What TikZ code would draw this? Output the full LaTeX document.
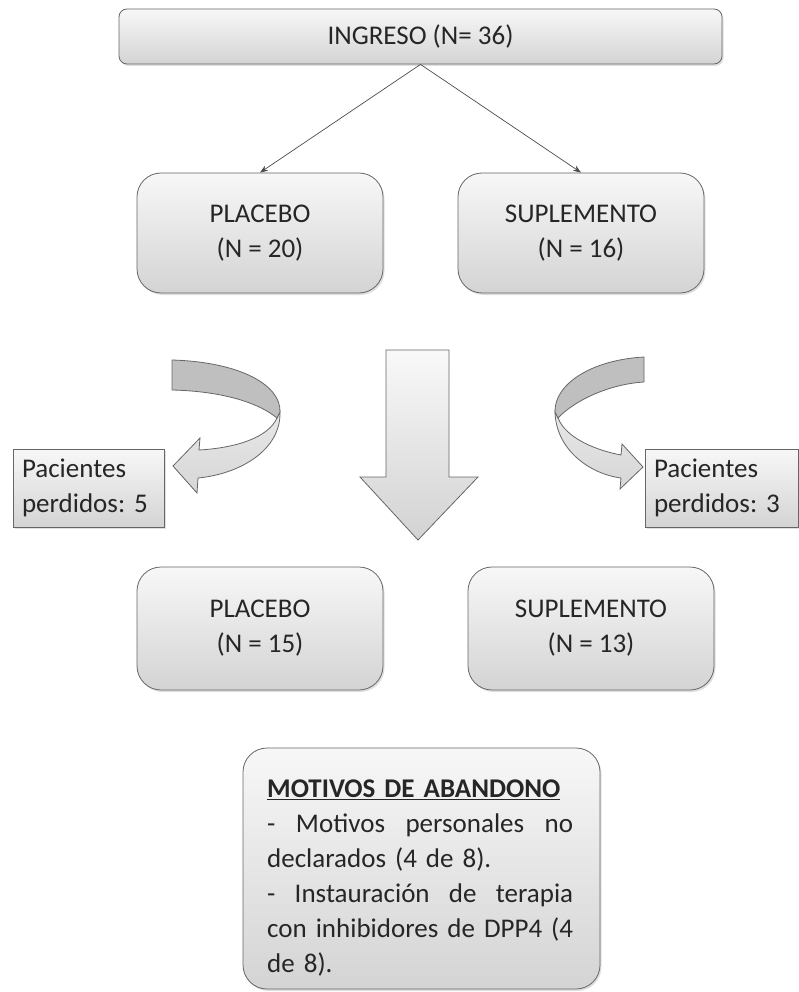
\documentclass[tikz,border=0pt]{standalone}
\usepackage{fontspec}
\setmainfont{Carlito}
\usetikzlibrary{arrows.meta,shadows,positioning}
\frenchspacing

\begin{document}
\begin{tikzpicture}[x=1pt, y=-1pt,
    font=\fontsize{27}{35}\selectfont,
    grupo/.style={draw=black!60, line width=0.8pt, rounded corners=24pt,
        top color=gray!6, bottom color=gray!34, text=black!85,
        align=center, inner sep=0pt,
        drop shadow={shadow xshift=1.5pt, shadow yshift=-2pt, opacity=0.25}},
    perdidos/.style={draw=black!60, line width=0.8pt,
        top color=gray!6, bottom color=gray!34, text=black!85,
        align=left, inner xsep=9pt, inner ysep=0pt,
        drop shadow={shadow xshift=1.5pt, shadow yshift=-2pt, opacity=0.25}},
    conn/.style={draw=black!70, line width=0.7pt, -{Stealth[length=8pt, width=6pt]}},
    bloque/.style={draw=black!60, line width=0.8pt, top color=gray!5, bottom color=gray!35},
    cinta/.style={draw=black!60, line width=0.8pt, fill=gray!50},
    cintabaja/.style={draw=black!60, line width=0.8pt, top color=gray!18, bottom color=gray!32}
]
\useasboundingbox (0,0) rectangle (799,992);

\node[grupo, rounded corners=8pt, minimum width=603pt, minimum height=55pt] (ingreso) at (420.5,36.5) {INGRESO (N= 36)};

\node[grupo, minimum width=246pt, minimum height=120pt] (placeboA) at (260,233) {PLACEBO\\(N = 20)};
\node[grupo, minimum width=246pt, minimum height=120pt] (suplementoA) at (581,233) {SUPLEMENTO\\(N = 16)};

\draw[conn] (ingreso.south) -- (placeboA.north);
\draw[conn] (ingreso.south) -- (suplementoA.north);

\path[bloque] (386,350) -- (449,350) -- (449,477) -- (478,477) -- (418,540) -- (360,477) -- (386,477) -- cycle;

\path[cintabaja] (280,412) .. controls (281,450) and (240,474) .. (198,478) -- (197,493) -- (173,466) -- (200,438) -- (199,450) .. controls (235,448) and (268,438) .. (277,418) -- cycle;
\path[cinta] (172,360) .. controls (240,362) and (281,385) .. (280,412) -- (277,418) .. controls (255,400) and (215,391) .. (172,390) -- cycle;

\path[cintabaja] (555,412) .. controls (556,450) and (590,474) .. (621,478) -- (620,489) -- (643,467) -- (622,444) -- (621,455) .. controls (595,450) and (566,438) .. (558,418) -- cycle;
\path[cinta] (644,357) .. controls (590,360) and (554,385) .. (555,412) -- (558,418) .. controls (575,400) and (610,384) .. (644,382) -- cycle;

\node[perdidos, text width=133pt, minimum height=78pt] (perdidosA) at (88.5,488) {Pacientes\\perdidos: 5};
\node[perdidos, text width=135pt, minimum height=78pt] (perdidosB) at (721.5,488) {Pacientes\\perdidos: 3};

\node[grupo, minimum width=246pt, minimum height=123pt] (placeboB) at (260,628.5) {PLACEBO\\(N = 15)};
\node[grupo, minimum width=246pt, minimum height=123pt] (suplementoB) at (591,628.5) {SUPLEMENTO\\(N = 13)};

\node[grupo, minimum width=357pt, minimum height=241pt] (motivos) at (421.5,868.5) {};
\node[anchor=north west, text width=306pt, inner sep=0pt, align=left, text=black!85] (motivosTxt) at (267,780) {\underline{\textbf{MOTIVOS DE ABANDONO}}\\
\makebox[306pt][l]{-\hfill Motivos\hfill personales\hfill no}\\
declarados (4 de 8).\\
\makebox[306pt][l]{-\hfill Instauración\hfill de\hfill terapia}\\
\makebox[306pt][l]{con\hfill inhibidores\hfill de\hfill DPP4\hfill (4}\\
de 8).};
\end{tikzpicture}
\end{document}
